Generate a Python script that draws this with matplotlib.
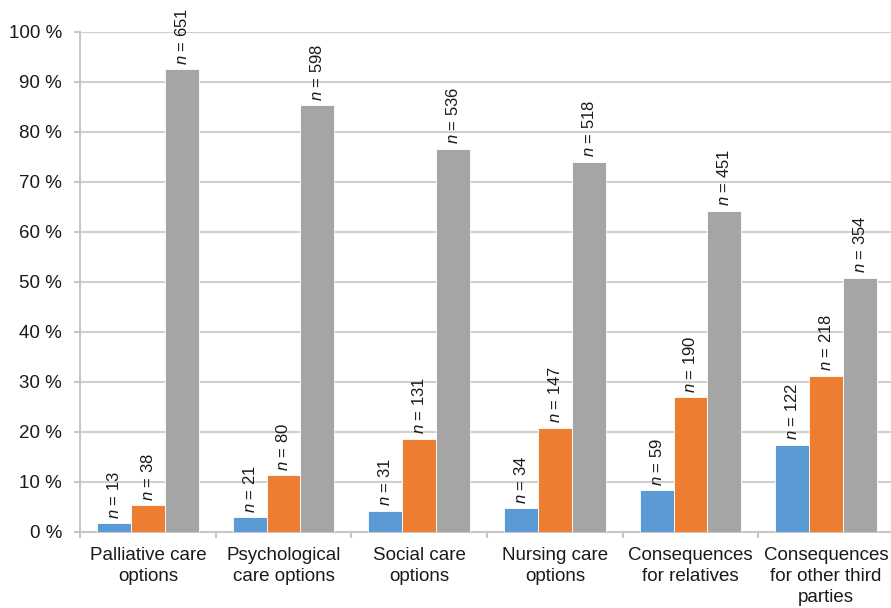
import matplotlib.pyplot as plt
import numpy as np

plt.rcParams['font.family'] = ['Liberation Sans', 'DejaVu Sans']
plt.rcParams['mathtext.fontset'] = 'custom'
plt.rcParams['mathtext.it'] = 'Liberation Sans:italic'
plt.rcParams['mathtext.rm'] = 'Liberation Sans'

categorias = [
    "Palliative care\noptions",
    "Psychological\ncare options",
    "Social care\noptions",
    "Nursing care\noptions",
    "Consequences\nfor relatives",
    "Consequences\nfor other third\nparties",
]

# porcentaje de cada grupo por categoría
pct_azul = [1.8, 3.0, 4.3, 4.8, 8.4, 17.5]
pct_naranja = [5.4, 11.4, 18.7, 20.9, 27.0, 31.3]
pct_gris = [92.6, 85.4, 76.7, 74.1, 64.3, 50.9]

# número de casos de cada barra
n_azul = [13, 21, 31, 34, 59, 122]
n_naranja = [38, 80, 131, 147, 190, 218]
n_gris = [651, 598, 536, 518, 451, 354]

colores = ["#5B9BD5", "#ED7D31", "#A5A5A5"]
series = [(pct_azul, n_azul), (pct_naranja, n_naranja), (pct_gris, n_gris)]


def main():
    fig = plt.figure(figsize=(8.91, 6.08), dpi=100)
    ax = fig.add_axes([80 / 891, 76 / 608, 814 / 891, 500 / 608])

    x = np.arange(len(categorias))
    ancho = 0.25

    for i, (pct, n) in enumerate(series):
        pos = x + (i - 1) * ancho
        ax.bar(pos, pct, ancho, color=colores[i], edgecolor="white",
               linewidth=0.6, zorder=3)
        for xi, yi, ni in zip(pos, pct, n):
            ax.annotate(f"$n$ = {ni}", (xi, yi), xytext=(0, 3),
                        textcoords="offset points", rotation=90,
                        ha="center", va="bottom", fontsize=12,
                        color="#1a1a1a")

    ax.set_xlim(-0.5, len(categorias) - 0.5)
    ax.set_ylim(0, 100)
    ax.set_yticks(np.arange(0, 101, 10))
    ax.set_yticklabels([f"{v} %" for v in range(0, 101, 10)])

    ax.set_xticks(x)
    ax.set_xticklabels(categorias, linespacing=1.3)
    ax.set_xticks(np.arange(-0.5, len(categorias) - 0.4, 1), minor=True)
    ax.tick_params(axis="x", which="major", length=0, pad=11,
                   labelsize=13.5, labelcolor="#1a1a1a")
    ax.tick_params(axis="x", which="minor", length=4, width=1.5,
                   color="#C8C8C8")
    ax.tick_params(axis="y", length=4, width=1.5, color="#C8C8C8", pad=9,
                   labelsize=13.5, labelcolor="#1a1a1a")

    ax.yaxis.grid(True, color="#D0D0D0", linewidth=1.5, zorder=0)
    ax.set_axisbelow(True)
    for lado in ["top", "right"]:
        ax.spines[lado].set_visible(False)
    for lado in ["left", "bottom"]:
        ax.spines[lado].set_color("#C8C8C8")
        ax.spines[lado].set_linewidth(1.5)

    fig.savefig("out.png", dpi=100)


if __name__ == "__main__":
    main()
